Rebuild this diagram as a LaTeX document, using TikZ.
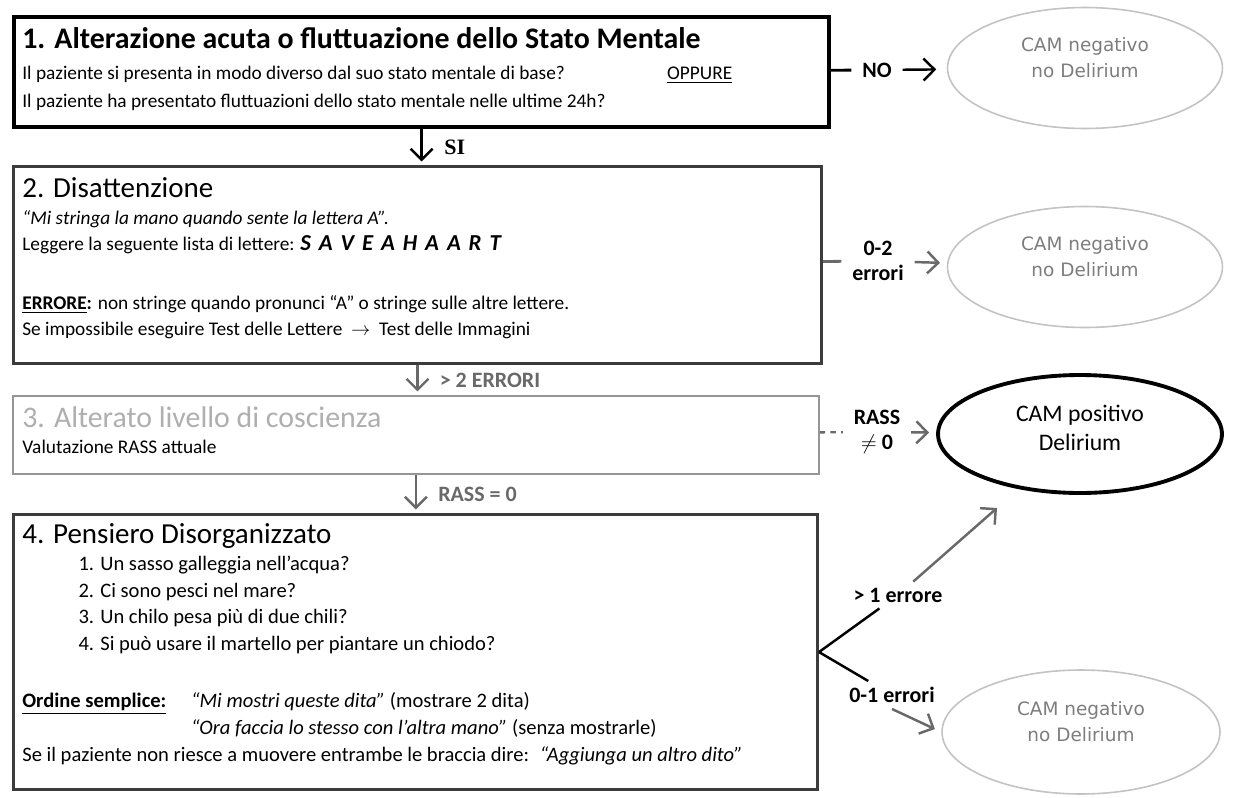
\documentclass[tikz,border=0pt]{standalone}
\usepackage{fontspec}
\setmainfont{Carlito}
\newfontfamily\ellfont{DejaVu Sans}
\newfontfamily\sifont{Liberation Serif}
\usepackage{tikz}
\usetikzlibrary{arrows.meta, positioning, shapes.geometric}
\definecolor{boxedge}{RGB}{60,60,60}
\definecolor{paleedge}{RGB}{150,150,150}
\definecolor{paletitle}{RGB}{175,175,175}
\definecolor{ellgray}{RGB}{195,195,195}
\definecolor{ellink}{RGB}{125,125,125}
\definecolor{linkgray}{RGB}{105,105,105}
\newcommand{\steptitle}[1]{{\fontsize{16.5}{18}\selectfont #1}}

\begin{document}
\begin{tikzpicture}[x=0.02cm, y=-0.02cm,
    panel/.style={rectangle, draw=boxedge, line width=1.8pt, anchor=north west, inner sep=0pt},
    body/.style={anchor=north west, align=left, inner sep=0pt, font=\fontsize{11}{14.8}\selectfont},
    outcome/.style={ellipse, draw=ellgray, line width=0.9pt, align=center, text=ellink, font=\ellfont\fontsize{10.5}{15}\selectfont, minimum width=5.5cm, minimum height=2.42cm},
    arrow/.style={-{Straight Barb[length=2.2mm, width=4.4mm]}, line width=1.4pt},
    verdict/.style={font=\bfseries\fontsize{12.5}{14.5}\selectfont, align=center, inner xsep=6pt}
]
    \fill[white] (0,0) rectangle (1259,798);
    \useasboundingbox (0,0) rectangle (1259,798);

    % Boxes
    \node[panel, draw=black, line width=2.4pt, minimum width=16.3cm, minimum height=2.2cm] (box1) at (12,15) {};
    \node[panel, minimum width=16.16cm, minimum height=3.94cm] (box2) at (12,165) {};
    \node[panel, draw=paleedge, line width=1.2pt, minimum width=16.12cm, minimum height=1.56cm] (box3) at (12,395) {};
    \node[panel, minimum width=16.08cm, minimum height=5.5cm] (box4) at (12,513) {};

    % Box texts
    \node[body, font=\fontsize{11}{15.5}\selectfont] (txt1) at (22,27) {{\fontsize{17}{19}\selectfont\bfseries 1. Alterazione acuta o fluttuazione dello Stato Mentale}\\[2.5pt]
        \makebox[367pt][l]{Il paziente si presenta in modo diverso dal suo stato mentale di base?}\underline{OPPURE}\\
        Il paziente ha presentato fluttuazioni dello stato mentale nelle ultime 24h?};
    \node[body] (txt2) at (22,177) {\steptitle{2. Disattenzione}\\[0.5pt]
        \textit{“Mi stringa la mano quando sente la lettera A”.}\\
        Leggere la seguente lista di lettere: {\fontsize{13}{14}\selectfont\bfseries\itshape\spaceskip=4.5pt S A V E A H A A R T}\\[19pt]
        \textbf{\underline{ERRORE}:} non stringe quando pronunci “A” o stringe sulle altre lettere.\\
        Se impossibile eseguire Test delle Lettere \ $\rightarrow$ \ Test delle Immagini};
    \node[body] (txt3) at (22,406) {{\fontsize{17}{18}\selectfont\color{paletitle}3. Alterato livello di coscienza}\\[0.5pt]
        Valutazione RASS attuale};
    \node[body, font=\fontsize{11.7}{15.3}\selectfont] (txt4) at (22,523) {\steptitle{4. Pensiero Disorganizzato}\\[0pt]
        \hspace*{32pt}1. Un sasso galleggia nell’acqua?\\
        \hspace*{32pt}2. Ci sono pesci nel mare?\\
        \hspace*{32pt}3. Un chilo pesa più di due chili?\\
        \hspace*{32pt}4. Si può usare il martello per piantare un chiodo?\\[17pt]
        \makebox[96pt][l]{\textbf{\underline{Ordine semplice:}}}\textit{“Mi mostri queste dita”} (mostrare 2 dita)\\
        \hspace*{96pt}\textit{“Ora faccia lo stesso con l’altra mano”} (senza mostrarle)\\
        Se il paziente non riesce a muovere entrambe le braccia dire: \ \textit{“Aggiunga un altro dito”}};

    % Outcomes
    \node[outcome] (ell1) at (1085,68) {CAM negativo\\no Delirium\\[-3pt]\mbox{}};
    \node[outcome] (ell2) at (1085,267) {CAM negativo\\no Delirium\\[-3pt]\mbox{}};
    \node[outcome, draw=black, line width=2.2pt, text=black, font=\fontsize{13.5}{16}\selectfont, minimum width=5.68cm, minimum height=2.36cm] (ell3) at (1080,434) {CAM positivo\\Delirium\\[-9pt]\mbox{}};
    \node[outcome, minimum width=5.56cm, minimum height=2.48cm] (ell4) at (1081,732) {CAM negativo\\no Delirium\\[-3pt]\mbox{}};

    % Down arrows
    \draw[arrow, shorten >=2pt] (box1.south) -- node[right, xshift=9pt, font=\sifont\bfseries\fontsize{12.5}{14}\selectfont] (si) {SI} (box1.south |- box2.north);
    \draw[arrow, linkgray, shorten >=2pt] (box2.south) -- node[right, xshift=9pt, verdict, inner xsep=3pt] (err2) {> 2 ERRORI} (box2.south |- box3.north);
    \draw[arrow, linkgray, shorten >=2pt] (box3.south) -- node[right, xshift=9pt, verdict, inner xsep=3pt] (rass0) {RASS = 0} (box3.south |- box4.north);

    % Side labels
    \node[verdict] (no) at (877,70) {NO};
    \node[verdict] (few2) at (878,261) {0-2\\errori};
    \node[verdict] (rass) at (877,432) {RASS\\$\neq$ 0};
    \node[verdict, inner xsep=3pt] (gt1) at (898,595) {> 1 errore};
    \node[verdict, inner xsep=3pt] (le1) at (892,695) {0-1 errori};
    \coordinate (hit3) at (997,508);

    % Side connectors
    \draw[line width=1.6pt] (box1) -- (no);
    \draw[arrow, shorten >=6pt] (no) -- (ell1);
    \draw[linkgray, line width=1.6pt] (box2) -- (few2);
    \draw[arrow, linkgray, shorten >=4pt] (few2) -- (ell2);
    \draw[linkgray, dashed, line width=1.3pt] (box3) -- (rass);
    \draw[arrow, linkgray, shorten >=4pt] (rass) -- (ell3);
    \draw[line width=1.4pt] (box4.east) -- (gt1);
    \draw[arrow, linkgray] (gt1) -- (hit3);
    \draw[line width=1.4pt] (box4.east) -- (le1);
    \draw[arrow, linkgray, shorten >=4pt] (le1.south) -- (ell4.west);
\end{tikzpicture}
\end{document}
